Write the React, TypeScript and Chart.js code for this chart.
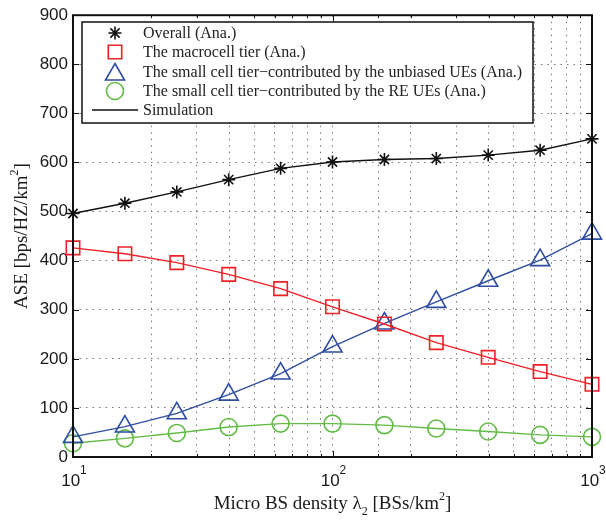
import React, { useEffect, useRef } from 'react';
import { Chart, registerables } from 'chart.js';
import { drawPoint } from 'chart.js/helpers';

Chart.register(...registerables);

// ---- data ----
const density = [10, 15.85, 25.12, 39.81, 63.1, 100, 158.5, 251.2, 398.1, 631, 1000];
const overall = [496, 517, 540, 565, 588, 601, 606, 608, 615, 625, 648];
const macroTier = [426, 414, 396, 372, 343, 306, 271, 233, 203, 174, 148];
const smallUnbiased = [41, 62, 89, 127, 170, 225, 272, 316, 359, 401, 455];
const smallRE = [28, 38, 49, 61, 68, 68, 65, 58, 52, 45, 41];
const yTickValues = [0, 100, 200, 300, 400, 500, 600, 700, 800, 900];
const xMajorTicks = [10, 100, 1000];
const xMajorExp = ['1', '2', '3'];
const seriesLabels = [
  'Overall (Ana.)',
  'The macrocell tier (Ana.)',
  'The small cell tier\u2212contributed by the unbiased UEs (Ana.)',
  'The small cell tier\u2212contributed by the RE UEs (Ana.)',
];
const simulationLabel = 'Simulation';

const COLORS = ['#111111', '#ee2127', '#2f4ea2', '#62bb46'];
const STYLES = ['star', 'rect', 'triangle', 'circle'];
const RADII = [6.5, 9.5, 11, 8.5];

const SERIF = '"Liberation Serif", "Times New Roman", serif';
const SANS = '"Liberation Sans", Arial, sans-serif';

type Seg = { t: string; size: number; dy: number };

function drawRich(ctx: CanvasRenderingContext2D, segs: Seg[], family: string, cx: number, baseY: number) {
  let total = 0;
  const widths = segs.map((s) => {
    ctx.font = `${s.size}px ${family}`;
    const w = ctx.measureText(s.t).width;
    total += w;
    return w;
  });
  let x = cx - total / 2;
  ctx.textAlign = 'left';
  ctx.textBaseline = 'alphabetic';
  segs.forEach((s, i) => {
    ctx.font = `${s.size}px ${family}`;
    ctx.fillText(s.t, x, baseY + s.dy);
    x += widths[i];
  });
}

const decorPlugin = {
  id: 'decor',
  afterDatasetsDraw(chart: any) {
    const ctx: CanvasRenderingContext2D = chart.ctx;
    const { left, right, top, bottom } = chart.chartArea;
    const xs = chart.scales.x;
    const ys = chart.scales.y;
    ctx.save();

    // inward ticks
    ctx.strokeStyle = '#111';
    ctx.lineWidth = 1;
    ctx.beginPath();
    yTickValues.forEach((v) => {
      const y = Math.round(ys.getPixelForValue(v)) + 0.5;
      ctx.moveTo(left, y);
      ctx.lineTo(left + 6, y);
      ctx.moveTo(right, y);
      ctx.lineTo(right - 6, y);
    });
    xs.ticks.forEach((t: any) => {
      const x = Math.round(xs.getPixelForValue(t.value)) + 0.5;
      const major = xMajorTicks.includes(t.value);
      const len = major ? 6 : 3;
      ctx.moveTo(x, bottom);
      ctx.lineTo(x, bottom - len);
      ctx.moveTo(x, top);
      ctx.lineTo(x, top + len);
    });
    ctx.stroke();

    // frame
    ctx.lineWidth = 2;
    ctx.strokeStyle = '#111';
    ctx.strokeRect(left, top, right - left, bottom - top);

    // x tick labels 10^n
    ctx.fillStyle = '#1a1a1a';
    xMajorTicks.forEach((v, i) => {
      const x = xs.getPixelForValue(v);
      drawRich(
        ctx,
        [
          { t: '10', size: 17, dy: 0 },
          { t: xMajorExp[i], size: 12, dy: -12 },
        ],
        SANS,
        x + 1,
        486
      );
    });

    // x title
    drawRich(
      ctx,
      [
        { t: 'Micro BS density \u03BB', size: 19, dy: 0 },
        { t: '2', size: 12, dy: 6 },
        { t: ' [BSs/km', size: 19, dy: 0 },
        { t: '2', size: 12, dy: -9 },
        { t: ']', size: 19, dy: 0 },
      ],
      SERIF,
      (left + right) / 2,
      509
    );

    // y title
    ctx.save();
    ctx.translate(27, (top + bottom) / 2);
    ctx.rotate(-Math.PI / 2);
    drawRich(
      ctx,
      [
        { t: 'ASE [bps/HZ/km', size: 19, dy: 0 },
        { t: '2', size: 12, dy: -9 },
        { t: ']', size: 19, dy: 0 },
      ],
      SERIF,
      0,
      0
    );
    ctx.restore();

    // legend
    const lx = 82, ly = 22, lw = 451, lh = 101;
    ctx.fillStyle = '#ffffff';
    ctx.fillRect(lx, ly, lw, lh);
    ctx.lineWidth = 1.5;
    ctx.strokeStyle = '#111';
    ctx.strokeRect(lx, ly, lw, lh);
    const rowY = [33, 52, 71.5, 91, 110];
    const mx = 115;
    ctx.font = `16px ${SERIF}`;
    ctx.textAlign = 'left';
    ctx.textBaseline = 'middle';
    seriesLabels.forEach((label, i) => {
      ctx.strokeStyle = COLORS[i];
      ctx.fillStyle = 'rgba(0,0,0,0)';
      ctx.lineWidth = 1.6;
      drawPoint(ctx, { pointStyle: STYLES[i] as any, radius: RADII[i], rotation: 0, borderWidth: 1.6 } as any, mx, rowY[i] + (STYLES[i] === 'triangle' ? 3 : 0));
      ctx.fillStyle = '#222';
      ctx.fillText(label, 143, rowY[i] + 1);
    });
    ctx.strokeStyle = '#111';
    ctx.lineWidth = 1.5;
    ctx.beginPath();
    ctx.moveTo(92, rowY[4]);
    ctx.lineTo(138, rowY[4]);
    ctx.stroke();
    ctx.fillStyle = '#222';
    ctx.fillText(simulationLabel, 143, rowY[4] + 1);

    ctx.restore();
  },
};

export default function App() {
  const ref = useRef<HTMLCanvasElement | null>(null);
  useEffect(() => {
    if (!ref.current) return;
    const series = [overall, macroTier, smallUnbiased, smallRE];
    const chart = new Chart(ref.current, {
      type: 'line',
      data: {
        datasets: series.map((vals, i) => ({
          label: seriesLabels[i],
          data: density.map((x, k) => ({ x, y: vals[k] })),
          borderColor: COLORS[i],
          backgroundColor: 'rgba(0,0,0,0)',
          borderWidth: 1.4,
          pointStyle: STYLES[i] as any,
          pointRadius: RADII[i],
          pointBorderWidth: 1.6,
          pointBorderColor: COLORS[i],
          pointBackgroundColor: 'rgba(0,0,0,0)',
          tension: 0,
          fill: false,
          clip: false as any,
        })),
      },
      options: {
        animation: false,
        responsive: false,
        maintainAspectRatio: false,
        layout: { padding: { left: 0, right: 14, top: 15, bottom: 0 } },
        plugins: { legend: { display: false }, tooltip: { enabled: false } },
        scales: {
          x: {
            type: 'logarithmic',
            min: 10,
            max: 1000,
            ticks: { display: false },
            grid: { color: '#777', lineWidth: 1, drawTicks: false },
            border: { display: false, dash: [1.5, 5] },
            afterFit: (s: any) => {
              s.height = 65;
            },
          },
          y: {
            type: 'linear',
            min: 0,
            max: 900,
            ticks: {
              stepSize: 100,
              color: '#1a1a1a',
              padding: 5,
              font: { family: SANS, size: 17 },
            },
            grid: { color: '#777', lineWidth: 1, drawTicks: false },
            border: { display: false, dash: [1.5, 5] },
            afterFit: (s: any) => {
              s.width = 73;
            },
          },
        },
      },
      plugins: [decorPlugin],
    });
    return () => chart.destroy();
  }, []);
  return (
    <div style={{ position: 'absolute', left: 0, top: 0, width: 606, height: 522, background: '#fff' }}>
      <canvas ref={ref} width={606} height={522} style={{ width: 606, height: 522 }} />
    </div>
  );
}
